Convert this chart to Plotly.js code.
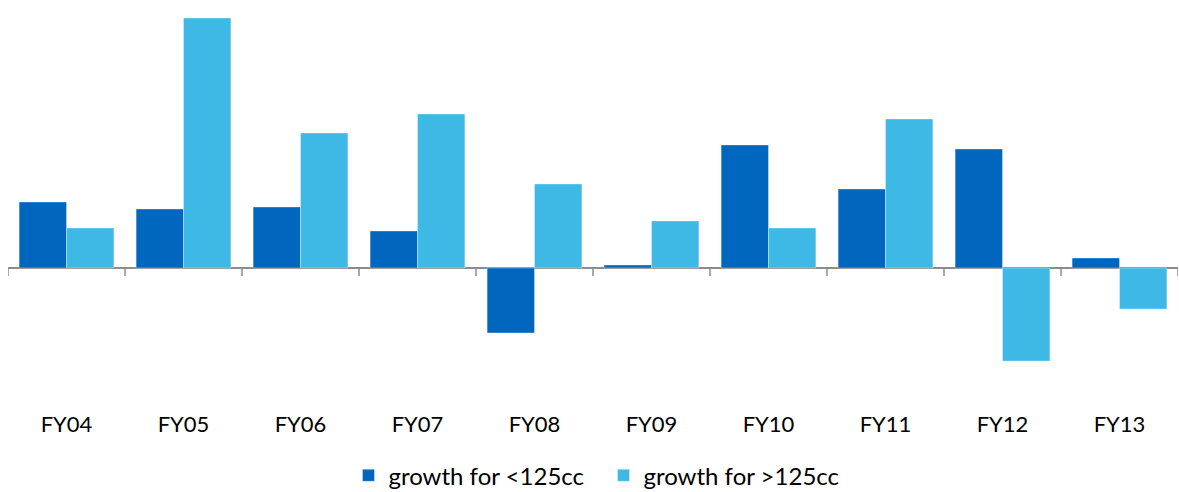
<!DOCTYPE html>
<html>
<head>
<meta charset="utf-8">
<script src="https://cdn.plot.ly/plotly-3.0.1.min.js"></script>
<style>
  html, body { margin: 0; padding: 0; background: #fff; }
  #chart { width: 1179px; height: 492px; }
</style>
</head>
<body>
<div id="chart"></div>
<script>
// Fiscal years on the category axis
const years = ["FY04", "FY05", "FY06", "FY07", "FY08", "FY09", "FY10", "FY11", "FY12", "FY13"];

// Year-on-year growth (%) by engine class
const growthBelow125 = [6.6, 5.9, 6.1, 3.7, -6.5, 0.3, 12.3, 7.9, 11.9, 1.0];
const growthAbove125 = [4.0, 25.0, 13.5, 15.4, 8.4, 4.7, 4.0, 14.9, -9.3, -4.1];

const seriesNames = ["growth for <125cc", "growth for >125cc"];

const darkBlue = "#0066BE";
const lightBlue = "#3EB8E4";
const axisGrey = "#8C8C8C";

const traces = [
  {
    type: "bar",
    name: seriesNames[0],
    x: years,
    y: growthBelow125,
    marker: { color: darkBlue, line: { color: "rgba(255,255,255,0.35)", width: 1 } },
    hoverinfo: "x+y+name"
  },
  {
    type: "bar",
    name: seriesNames[1],
    x: years,
    y: growthAbove125,
    marker: { color: lightBlue, line: { color: "rgba(255,255,255,0.35)", width: 1 } },
    hoverinfo: "x+y+name"
  }
];

// Small tick marks hanging below the zero line at each category boundary
const tickShapes = [];
for (let i = 0; i <= years.length; i++) {
  tickShapes.push({
    type: "line",
    xref: "x", yref: "y",
    x0: i - 0.5, x1: i - 0.5,
    y0: 0, y1: -0.8,
    line: { color: axisGrey, width: 1.5 }
  });
}

const layout = {
  width: 1179,
  height: 492,
  margin: { l: 8, r: 1, t: 8, b: 87, autoexpand: false },
  paper_bgcolor: "#ffffff",
  plot_bgcolor: "#ffffff",
  barmode: "group",
  bargap: 0.19,
  bargroupgap: 0,
  font: { family: "Lato, 'Open Sans', sans-serif", size: 20, color: "#000000" },
  xaxis: {
    type: "category",
    range: [-0.5, years.length - 0.5],
    showline: false,
    showgrid: false,
    zeroline: false,
    ticks: "",
    tickfont: { size: 22, color: "#000000" },
    ticklabelstandoff: 4
  },
  yaxis: {
    range: [-13.7, 26.0],
    showgrid: false,
    showticklabels: false,
    ticks: "",
    showline: false,
    zeroline: true,
    zerolinecolor: axisGrey,
    zerolinewidth: 2
  },
  shapes: tickShapes,
  showlegend: true,
  legend: {
    orientation: "h",
    x: 0.291,
    xanchor: "left",
    y: -0.178,
    yanchor: "middle",
    font: { size: 24, color: "#000000" },
    entrywidth: 210,
    entrywidthmode: "pixels",
    itemwidth: 30,
    traceorder: "normal",
    bgcolor: "rgba(0,0,0,0)"
  }
};

Plotly.newPlot("chart", traces, layout, { displayModeBar: false, staticPlot: true });
</script>
</body>
</html>
